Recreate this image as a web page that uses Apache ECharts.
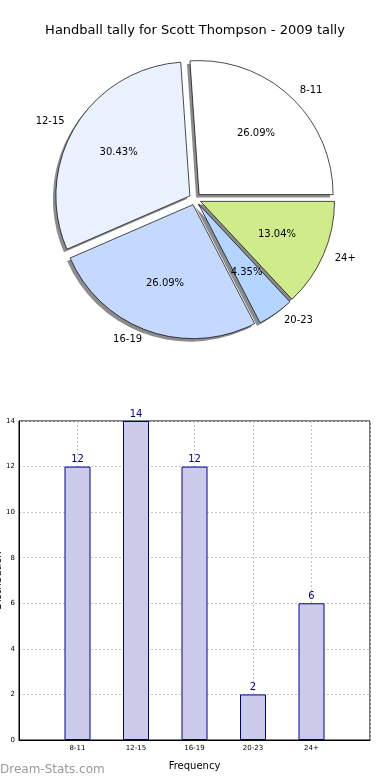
<!DOCTYPE html>
<html>
<head>
<meta charset="utf-8">
<script src="https://cdn.jsdelivr.net/npm/echarts@6/dist/echarts.min.js"></script>
<style>html,body{margin:0;padding:0;background:#fff}#c{width:390px;height:780px}</style>
</head>
<body>
<div id="c"></div>
<script>
var titleText = 'Handball tally for Scott Thompson - 2009 tally';
var categories = ['8-11', '12-15', '16-19', '20-23', '24+'];
var values = [12, 14, 12, 2, 6];
var sliceColors = ['#ffffff', '#eaf1ff', '#c5d9ff', '#b4d5ff', '#d0eb8a'];
var yTicks = [0, 2, 4, 6, 8, 10, 12, 14];

var FONT = 'DejaVu Sans';
var CX = 195, CY = 199, R = 134, OFF = 6;
var total = values.reduce(function (a, b) { return a + b; }, 0);

function mk(i, extra) {
  var o = { name: categories[i], value: values[i], selected: true };
  if (extra) o.itemStyle = extra;
  return o;
}
var pieData = categories.map(function (c, i) { return mk(i, { color: sliceColors[i] }); });
var shadowData = categories.map(function (c, i) { return mk(i); });
var pctData = categories.map(function (c, i) { return mk(i); });
var nameData = categories.map(function (c, i) { return mk(i); });

var xCats = [''].concat(categories).concat(['']);
var barData = ['-'].concat(values).concat(['-']);

var pieCommon = {
  type: 'pie', startAngle: 0, clockwise: false,
  selectedMode: 'multiple', selectedOffset: OFF, avoidLabelOverlap: false, silent: true,
  emphasis: { disabled: true }
};
function pie(o) { return Object.assign({}, pieCommon, o); }

var chart = echarts.init(document.getElementById('c'), null, { renderer: 'canvas' });
chart.setOption({
  animation: false,
  backgroundColor: '#ffffff',
  textStyle: { fontFamily: FONT },
  title: {
    text: titleText, left: 'center', top: 19,
    textStyle: { fontFamily: FONT, fontSize: 13, fontWeight: 'normal', color: '#000' }
  },
  graphic: [{
    type: 'text', left: 0, top: 764,
    style: { text: 'Dream-Stats.com', fill: '#999', font: '12px "DejaVu Sans"' }
  }],
  grid: {
    left: 19, right: 20, top: 421, bottom: 40, containLabel: false, outerBoundsMode: 'none',
    show: true, borderColor: '#000', borderWidth: 1, backgroundColor: 'transparent'
  },
  xAxis: {
    type: 'category', data: xCats, boundaryGap: false,
    name: 'Frequency', nameLocation: 'middle', nameGap: 21, nameMoveOverlap: false,
    nameTextStyle: { fontFamily: FONT, fontSize: 10, color: '#000' },
    axisLine: { lineStyle: { color: '#000' } },
    axisTick: { show: false },
    axisLabel: { interval: 0, fontSize: 7, color: '#000', margin: 5, fontFamily: FONT },
    splitLine: { show: true, interval: 0, lineStyle: { color: '#c4c4c4', type: [2, 2] } }
  },
  yAxis: {
    type: 'value', min: 0, max: 14, interval: 2,
    name: 'Distribution', nameLocation: 'middle', nameGap: 16, nameMoveOverlap: false,
    nameTextStyle: { fontFamily: FONT, fontSize: 10, color: '#000' },
    axisLine: { show: true, lineStyle: { color: '#000' } },
    axisTick: { show: false },
    axisLabel: { fontSize: 7, color: '#000', margin: 4, fontFamily: FONT,
      formatter: function (v) { return yTicks.indexOf(v) >= 0 ? String(v) : ''; } },
    splitLine: { show: true, lineStyle: { color: '#c4c4c4', type: [2, 2] } }
  },
  series: [
    pie({
      center: [CX - 3, CY + 3], radius: [0, R], data: shadowData,
      itemStyle: { color: 'rgba(0,0,0,0.45)', borderWidth: 0 },
      label: { show: false }, labelLine: { show: false }
    }),
    pie({
      center: [CX, CY], radius: [0, R], data: pieData,
      itemStyle: { borderColor: '#000', borderWidth: 0.7 },
      label: { show: false }, labelLine: { show: false }
    }),
    pie({
      center: [CX, CY], radius: [0, R * 1.2], data: pctData,
      itemStyle: { color: 'rgba(0,0,0,0)', borderWidth: 0 },
      label: {
        show: true, position: 'inner', rotate: 0, fontFamily: FONT, fontSize: 10, color: '#000',
        formatter: function (p) { return (p.value / total * 100).toFixed(2) + '%'; }
      },
      labelLine: { show: false }
    }),
    pie({
      center: [CX, CY], radius: [0, R], data: nameData,
      itemStyle: { color: 'rgba(0,0,0,0)', borderWidth: 0 },
      label: {
        show: true, position: 'outside', fontFamily: FONT, fontSize: 10, color: '#000',
        distanceToLabelLine: 3, formatter: '{b}'
      },
      labelLine: { show: false, length: 9, length2: 0 }
    }),
    {
      type: 'bar', data: barData, barWidth: 26,
      itemStyle: { color: '#ccccea', borderColor: '#00008b', borderWidth: 1 },
      label: { show: true, position: 'top', distance: 2, fontFamily: FONT, fontSize: 10, color: '#00008b' },
      emphasis: { disabled: true }
    }
  ]
});
</script>
</body>
</html>
